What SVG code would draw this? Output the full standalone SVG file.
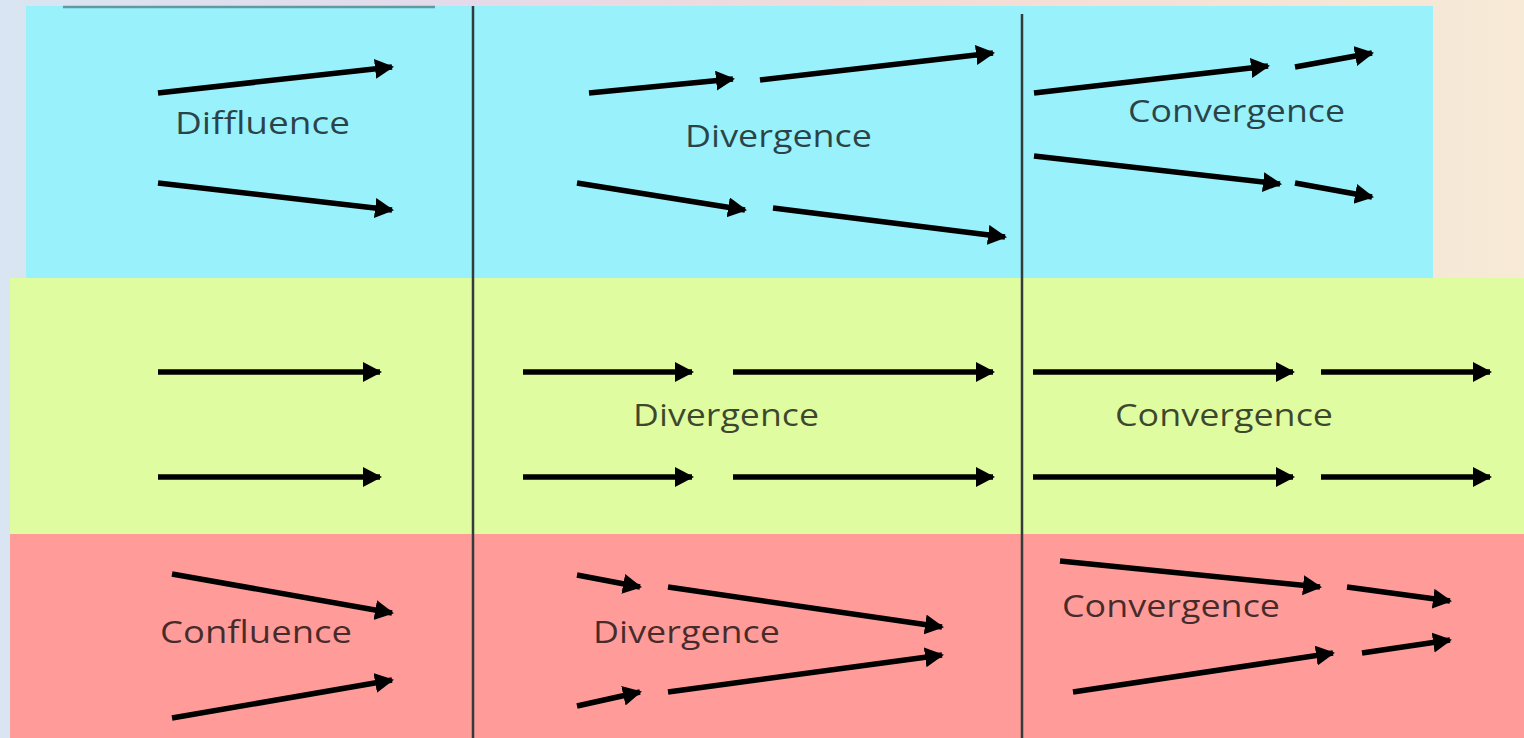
<svg xmlns="http://www.w3.org/2000/svg" width="1524" height="738" viewBox="0 0 1524 738">
  <defs>
    <linearGradient id="bg" x1="0" y1="0" x2="1" y2="0">
      <stop offset="0" stop-color="#d9e5f2"/>
      <stop offset="0.3" stop-color="#e4daea"/>
      <stop offset="0.6" stop-color="#f3dcd6"/>
      <stop offset="1" stop-color="#f7ead6"/>
    </linearGradient>
    <marker id="ah" markerUnits="userSpaceOnUse" markerWidth="22" markerHeight="22" refX="17" refY="10" orient="auto">
      <path d="M0,0 L19,10 L0,20 Z" fill="#000"/>
    </marker>
    <style>
      .lbl { font-family: "Open Sans", "Noto Sans", "Liberation Sans", sans-serif; font-size: 31px; fill: #000; fill-opacity: 0.72; }
      .arr { stroke: #000; stroke-width: 5.5; fill: none; marker-end: url(#ah); stroke-linecap: butt; }
      .div { stroke: #333b3b; stroke-width: 2.5; }
    </style>
  </defs>

  <rect x="0" y="0" width="1524" height="738" fill="url(#bg)"/>
  <rect id="band-blue" x="26" y="6" width="1407" height="272" fill="#99f1fc"/>
  <rect id="band-green" x="10" y="278" width="1514" height="256" fill="#dffda0"/>
  <rect id="band-red" x="10" y="534" width="1514" height="204" fill="#ff9c9a"/>
  <line x1="63" y1="7" x2="435" y2="7" stroke="#5e9ba2" stroke-width="2.5"/>
  <line class="div" x1="473" y1="6" x2="473" y2="738"/>
  <line class="div" x1="1022" y1="14" x2="1022" y2="738"/>

  <g id="cell-diffluence"><text class="lbl" x="175" y="134" textLength="175" lengthAdjust="spacingAndGlyphs">Diffluence</text></g>
  <g id="cell-divergence-top"><text class="lbl" x="685" y="147" textLength="187" lengthAdjust="spacingAndGlyphs">Divergence</text></g>
  <g id="cell-convergence-top"><text class="lbl" x="1128" y="122" textLength="217" lengthAdjust="spacingAndGlyphs">Convergence</text></g>
  <g id="cell-parallel"></g>
  <g id="cell-divergence-mid"><text class="lbl" x="633" y="426" textLength="186" lengthAdjust="spacingAndGlyphs">Divergence</text></g>
  <g id="cell-convergence-mid"><text class="lbl" x="1115" y="426" textLength="218" lengthAdjust="spacingAndGlyphs">Convergence</text></g>
  <g id="cell-confluence"><text class="lbl" x="160" y="643" textLength="192" lengthAdjust="spacingAndGlyphs">Confluence</text></g>
  <g id="cell-divergence-bot"><text class="lbl" x="593" y="643" textLength="187" lengthAdjust="spacingAndGlyphs">Divergence</text></g>
  <g id="cell-convergence-bot"><text class="lbl" x="1062" y="617" textLength="218" lengthAdjust="spacingAndGlyphs">Convergence</text></g>

  <g id="connectors">
    <line class="arr" x1="158" y1="93" x2="392" y2="67"/>
    <line class="arr" x1="158" y1="183" x2="392" y2="210"/>
    <line class="arr" x1="589" y1="93" x2="733" y2="79"/>
    <line class="arr" x1="760" y1="80" x2="993" y2="53"/>
    <line class="arr" x1="577" y1="183" x2="745" y2="210"/>
    <line class="arr" x1="773" y1="208" x2="1005" y2="237"/>
    <line class="arr" x1="1034" y1="93" x2="1268" y2="66"/>
    <line class="arr" x1="1295" y1="67" x2="1372" y2="53"/>
    <line class="arr" x1="1034" y1="156" x2="1280" y2="184"/>
    <line class="arr" x1="1295" y1="183" x2="1372" y2="197"/>

    <line class="arr" x1="158" y1="372" x2="380" y2="372"/>
    <line class="arr" x1="158" y1="477" x2="380" y2="477"/>
    <line class="arr" x1="523" y1="372" x2="692" y2="372"/>
    <line class="arr" x1="733" y1="372" x2="993" y2="372"/>
    <line class="arr" x1="523" y1="477" x2="692" y2="477"/>
    <line class="arr" x1="733" y1="477" x2="993" y2="477"/>
    <line class="arr" x1="1033" y1="372" x2="1293" y2="372"/>
    <line class="arr" x1="1321" y1="372" x2="1490" y2="372"/>
    <line class="arr" x1="1033" y1="477" x2="1293" y2="477"/>
    <line class="arr" x1="1321" y1="477" x2="1490" y2="477"/>

    <line class="arr" x1="172" y1="574" x2="392" y2="613"/>
    <line class="arr" x1="172" y1="718" x2="392" y2="680"/>
    <line class="arr" x1="577" y1="575" x2="640" y2="587"/>
    <line class="arr" x1="668" y1="587" x2="942" y2="627"/>
    <line class="arr" x1="577" y1="706" x2="640" y2="692"/>
    <line class="arr" x1="668" y1="692" x2="942" y2="655"/>
    <line class="arr" x1="1060" y1="561" x2="1320" y2="587"/>
    <line class="arr" x1="1347" y1="587" x2="1450" y2="601"/>
    <line class="arr" x1="1073" y1="692" x2="1333" y2="653"/>
    <line class="arr" x1="1362" y1="653" x2="1450" y2="640"/>
  </g>
</svg>
